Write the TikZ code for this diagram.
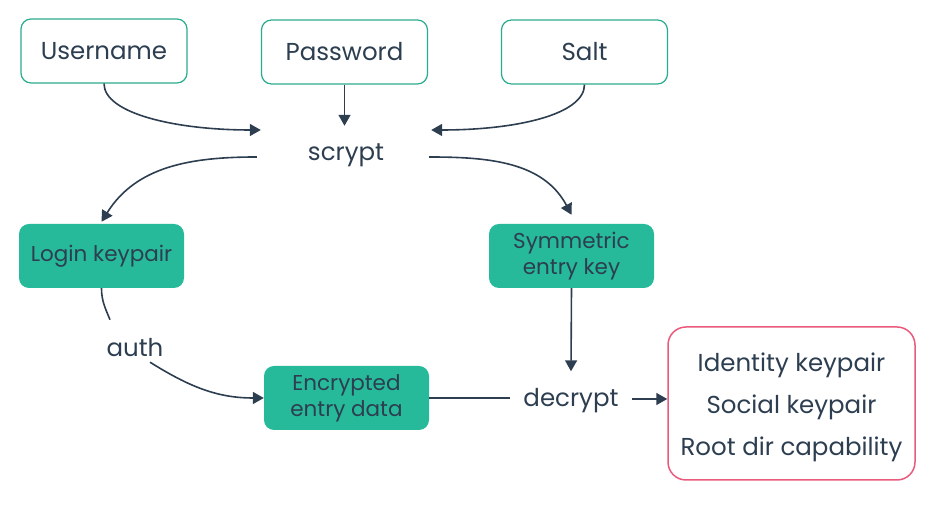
\documentclass[tikz,border=0pt]{standalone}
\usepackage{fontspec}
\setmainfont{Poppins}
\usetikzlibrary{arrows.meta}
\definecolor{ink}{HTML}{2C3E50}
\definecolor{fillgreen}{HTML}{27BA9A}
\definecolor{edgegreen}{HTML}{2AAB8C}
\definecolor{pinkedge}{HTML}{EA5A7C}
\begin{document}
\begin{tikzpicture}[x=1pt,y=1pt,
  inbox/.style={draw=edgegreen, line width=1.2pt, rounded corners=10pt, fill=white,
    minimum width=166pt, minimum height=64pt, text=ink, inner sep=0pt,
    font=\fontsize{24.5}{28}\selectfont},
  keybox/.style={fill=fillgreen, rounded corners=10pt, minimum width=165pt,
    minimum height=64pt, text=ink, align=center, inner sep=0pt,
    font=\fontsize{21.5}{26}\selectfont},
  lbl/.style={text=ink, font=\fontsize{24.5}{28}\selectfont, inner sep=0pt},
  outbox/.style={draw=pinkedge, line width=1.5pt, rounded corners=18pt,
    minimum width=247pt, minimum height=153pt},
  outtext/.style={text=ink, align=center, inner sep=0pt,
    font=\fontsize{24.5}{42}\selectfont},
  conn/.style={draw=ink, line width=1.6pt},
  arr/.style={conn, -{Triangle[length=11pt,width=12pt]}}]
\useasboundingbox (0,0) rectangle (938,510);
% input boxes
\node[inbox] (user) at (104,459) {Username};
\node[inbox] (pass) at (344.5,458) {Password};
\node[inbox] (salt) at (584.5,458) {Salt};
% process labels
\node[lbl, minimum width=170pt, minimum height=62pt] (scrypt) at (346,355) {scrypt};
\node[lbl, minimum width=60pt, minimum height=28pt] (auth) at (135,162) {auth};
\node[lbl, minimum width=122pt, minimum height=58pt] (decrypt) at (571,109.5) {decrypt};
% key boxes
\node[keybox] (login) at (101.5,254) {Login keypair};
\node[keybox] (sym) at (571.5,254) {Symmetric\\entry key};
\node[keybox] (enc) at (346.5,112) {Encrypted\\entry data};
% output
\node[outbox] (out) at (791.5,106.5) {};
\node[outtext] (outlines) at (791.5,102.5) {Identity keypair\\Social keypair\\Root dir capability};
% connectors
\draw[arr] (user.south) to[out=-90,in=180,out distance=30pt,in distance=85pt] ([yshift=25pt]scrypt.west);
\draw[arr] (pass.south) -- ([yshift=-2pt]pass.south |- scrypt.north);
\draw[arr] (salt.south) to[out=-90,in=0,out distance=30pt,in distance=85pt] ([yshift=25pt]scrypt.east);
\draw[arr] ([xshift=-4pt,yshift=-2pt]scrypt.west) to[out=180,in=58] ([yshift=2pt]login.north);
\draw[arr] ([xshift=-2pt,yshift=-2pt]scrypt.east) to[out=0,in=118] ([yshift=9pt]sym.north);
\draw[conn] (login.south) to[out=-90,in=112] ([xshift=-25pt,yshift=14pt]auth.north);
\draw[arr] ([xshift=15pt]auth.south) to[out=-32,in=180] (enc.west);
\draw[conn] (enc.east) -- (enc.east -| decrypt.west);
\draw[arr] (sym.south) -- (decrypt.north);
\draw[arr] ([yshift=1.5pt]decrypt.east) -- ([yshift=1.5pt]decrypt.east -| out.west);
\end{tikzpicture}
\end{document}
